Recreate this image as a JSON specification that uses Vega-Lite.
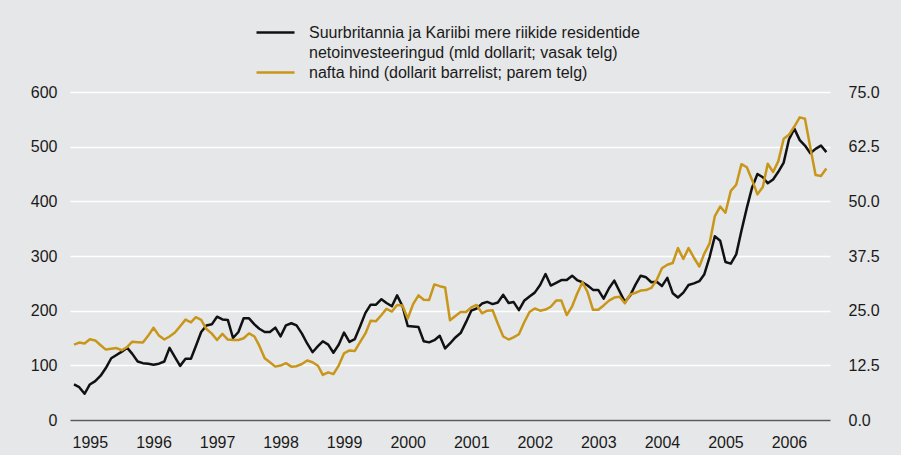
{
  "$schema": "https://vega.github.io/schema/vega-lite/v6.json",
  "width": 760,
  "height": 328,
  "autosize": {"type": "none"},
  "padding": {"left": 70, "top": 92, "right": 71, "bottom": 35},
  "background": "#e6e7e8",
  "data": {"values": [
    {"date":"1995-04-01","invest":65,"oil":17.25},
    {"date":"1995-05-01","invest":60,"oil":17.7},
    {"date":"1995-06-01","invest":48,"oil":17.5},
    {"date":"1995-07-01","invest":65,"oil":18.45},
    {"date":"1995-08-01","invest":71,"oil":18.2},
    {"date":"1995-09-01","invest":81,"oil":17.1},
    {"date":"1995-10-01","invest":95,"oil":16.1},
    {"date":"1995-11-01","invest":113,"oil":16.3},
    {"date":"1995-12-01","invest":119,"oil":16.45},
    {"date":"1996-01-01","invest":125,"oil":15.95},
    {"date":"1996-02-01","invest":132,"oil":16.7},
    {"date":"1996-03-01","invest":121,"oil":17.9},
    {"date":"1996-04-01","invest":107,"oil":17.8},
    {"date":"1996-05-01","invest":104,"oil":17.7},
    {"date":"1996-06-01","invest":103,"oil":19.3},
    {"date":"1996-07-01","invest":101,"oil":21.1},
    {"date":"1996-08-01","invest":103,"oil":19.3},
    {"date":"1996-09-01","invest":107,"oil":18.4},
    {"date":"1996-10-01","invest":132,"oil":19.1},
    {"date":"1996-11-01","invest":115,"oil":20.0},
    {"date":"1996-12-01","invest":99,"oil":21.45},
    {"date":"1997-01-01","invest":112,"oil":22.95},
    {"date":"1997-02-01","invest":112,"oil":22.35},
    {"date":"1997-03-01","invest":135,"oil":23.5},
    {"date":"1997-04-01","invest":161,"oil":22.9},
    {"date":"1997-05-01","invest":173,"oil":20.8},
    {"date":"1997-06-01","invest":175,"oil":19.75},
    {"date":"1997-07-01","invest":189,"oil":18.3},
    {"date":"1997-08-01","invest":184,"oil":19.7},
    {"date":"1997-09-01","invest":183,"oil":18.4},
    {"date":"1997-10-01","invest":150,"oil":18.3},
    {"date":"1997-11-01","invest":161,"oil":18.3},
    {"date":"1997-12-01","invest":186,"oil":18.7},
    {"date":"1998-01-01","invest":186,"oil":19.8},
    {"date":"1998-02-01","invest":175,"oil":19.1},
    {"date":"1998-03-01","invest":167,"oil":17.0},
    {"date":"1998-04-01","invest":161,"oil":14.1},
    {"date":"1998-05-01","invest":161,"oil":13.2},
    {"date":"1998-06-01","invest":169,"oil":12.2},
    {"date":"1998-07-01","invest":153,"oil":12.45},
    {"date":"1998-08-01","invest":173,"oil":13.0},
    {"date":"1998-09-01","invest":177,"oil":12.2},
    {"date":"1998-10-01","invest":173,"oil":12.3},
    {"date":"1998-11-01","invest":158,"oil":12.8},
    {"date":"1998-12-01","invest":140,"oil":13.6},
    {"date":"1999-01-01","invest":124,"oil":13.2},
    {"date":"1999-02-01","invest":135,"oil":12.4},
    {"date":"1999-03-01","invest":144,"oil":10.3},
    {"date":"1999-04-01","invest":138,"oil":10.9},
    {"date":"1999-05-01","invest":123,"oil":10.5},
    {"date":"1999-06-01","invest":138,"oil":12.5},
    {"date":"1999-07-01","invest":160,"oil":15.25},
    {"date":"1999-08-01","invest":143,"oil":15.9},
    {"date":"1999-09-01","invest":148,"oil":15.8},
    {"date":"1999-10-01","invest":171,"oil":17.8},
    {"date":"1999-11-01","invest":196,"oil":19.8},
    {"date":"1999-12-01","invest":211,"oil":22.7},
    {"date":"2000-01-01","invest":211,"oil":22.6},
    {"date":"2000-02-01","invest":221,"oil":24.0},
    {"date":"2000-03-01","invest":214,"oil":25.4},
    {"date":"2000-04-01","invest":208,"oil":24.8},
    {"date":"2000-05-01","invest":228,"oil":26.3},
    {"date":"2000-06-01","invest":208,"oil":26.2},
    {"date":"2000-07-01","invest":172,"oil":23.2},
    {"date":"2000-08-01","invest":171,"oil":26.5},
    {"date":"2000-09-01","invest":170,"oil":28.5},
    {"date":"2000-10-01","invest":144,"oil":27.5},
    {"date":"2000-11-01","invest":142,"oil":27.45},
    {"date":"2000-12-01","invest":146,"oil":31.0},
    {"date":"2001-01-01","invest":154,"oil":30.6},
    {"date":"2001-02-01","invest":131,"oil":30.3},
    {"date":"2001-03-01","invest":140,"oil":22.8},
    {"date":"2001-04-01","invest":151,"oil":23.8},
    {"date":"2001-05-01","invest":159,"oil":24.7},
    {"date":"2001-06-01","invest":179,"oil":24.7},
    {"date":"2001-07-01","invest":200,"oil":25.75},
    {"date":"2001-08-01","invest":204,"oil":26.3},
    {"date":"2001-09-01","invest":213,"oil":24.4},
    {"date":"2001-10-01","invest":216,"oil":25.0},
    {"date":"2001-11-01","invest":212,"oil":25.1},
    {"date":"2001-12-01","invest":215,"oil":22.0},
    {"date":"2002-01-01","invest":229,"oil":19.1},
    {"date":"2002-02-01","invest":214,"oil":18.4},
    {"date":"2002-03-01","invest":216,"oil":18.9},
    {"date":"2002-04-01","invest":201,"oil":19.6},
    {"date":"2002-05-01","invest":218,"oil":22.3},
    {"date":"2002-06-01","invest":226,"oil":24.7},
    {"date":"2002-07-01","invest":233,"oil":25.5},
    {"date":"2002-08-01","invest":247,"oil":25.0},
    {"date":"2002-09-01","invest":267,"oil":25.25},
    {"date":"2002-10-01","invest":246,"oil":25.9},
    {"date":"2002-11-01","invest":251,"oil":27.3},
    {"date":"2002-12-01","invest":256,"oil":27.3},
    {"date":"2003-01-01","invest":256,"oil":24.0},
    {"date":"2003-02-01","invest":264,"oil":26.0},
    {"date":"2003-03-01","invest":256,"oil":28.8},
    {"date":"2003-04-01","invest":252,"oil":31.5},
    {"date":"2003-05-01","invest":246,"oil":29.2},
    {"date":"2003-06-01","invest":238,"oil":25.2},
    {"date":"2003-07-01","invest":238,"oil":25.2},
    {"date":"2003-08-01","invest":222,"oil":26.2},
    {"date":"2003-09-01","invest":241,"oil":27.3},
    {"date":"2003-10-01","invest":255,"oil":28.0},
    {"date":"2003-11-01","invest":235,"oil":28.2},
    {"date":"2003-12-01","invest":216,"oil":26.7},
    {"date":"2004-01-01","invest":228,"oil":28.7},
    {"date":"2004-02-01","invest":248,"oil":29.1},
    {"date":"2004-03-01","invest":264,"oil":29.6},
    {"date":"2004-04-01","invest":261,"oil":29.7},
    {"date":"2004-05-01","invest":252,"oil":30.2},
    {"date":"2004-06-01","invest":253,"oil":32.0},
    {"date":"2004-07-01","invest":245,"oil":34.7},
    {"date":"2004-08-01","invest":260,"oil":35.5},
    {"date":"2004-09-01","invest":232,"oil":35.9},
    {"date":"2004-10-01","invest":224,"oil":39.3},
    {"date":"2004-11-01","invest":233,"oil":36.8},
    {"date":"2004-12-01","invest":247,"oil":39.3},
    {"date":"2005-01-01","invest":250,"oil":37.1},
    {"date":"2005-02-01","invest":254,"oil":35.1},
    {"date":"2005-03-01","invest":266,"oil":38.0},
    {"date":"2005-04-01","invest":298,"oil":40.4},
    {"date":"2005-05-01","invest":336,"oil":46.6},
    {"date":"2005-06-01","invest":328,"oil":48.8},
    {"date":"2005-07-01","invest":289,"oil":47.4},
    {"date":"2005-08-01","invest":286,"oil":52.4},
    {"date":"2005-09-01","invest":303,"oil":53.8},
    {"date":"2005-10-01","invest":346,"oil":58.5},
    {"date":"2005-11-01","invest":388,"oil":57.8},
    {"date":"2005-12-01","invest":425,"oil":54.9},
    {"date":"2006-01-01","invest":450,"oil":51.6},
    {"date":"2006-02-01","invest":444,"oil":53.3},
    {"date":"2006-03-01","invest":433,"oil":58.6},
    {"date":"2006-04-01","invest":440,"oil":56.7},
    {"date":"2006-05-01","invest":454,"oil":59.2},
    {"date":"2006-06-01","invest":471,"oil":64.3},
    {"date":"2006-07-01","invest":513,"oil":65.2},
    {"date":"2006-08-01","invest":533,"oil":67.1},
    {"date":"2006-09-01","invest":512,"oil":69.2},
    {"date":"2006-10-01","invest":502,"oil":68.9},
    {"date":"2006-11-01","invest":488,"oil":62.3},
    {"date":"2006-12-01","invest":496,"oil":56.0},
    {"date":"2007-01-01","invest":502,"oil":55.8},
    {"date":"2007-02-01","invest":490,"oil":57.5}
  ]},
  "encoding": {
    "x": {
      "field": "date",
      "type": "temporal",
      "scale": {"domain": ["1995-03-09", "2007-02-22"]},
      "axis": {
        "title": null,
        "values": ["1995-07-01","1996-07-01","1997-07-01","1998-07-01","1999-07-01","2000-07-01","2001-07-01","2002-07-01","2003-07-01","2004-07-01","2005-07-01","2006-07-01"],
        "format": "%Y",
        "grid": false,
        "ticks": false,
        "domain": true,
        "domainColor": "#58595b",
        "domainWidth": 1.5,
        "labelPadding": 14,
        "labelFlush": false,
        "zindex": 1
      }
    }
  },
  "layer": [
    {
      "mark": {"type": "line", "strokeWidth": 2.5, "strokeJoin": "round"},
      "encoding": {
        "y": {
          "field": "invest",
          "type": "quantitative",
          "scale": {"domain": [0, 600]},
          "axis": {
            "orient": "left",
            "title": null,
            "values": [0, 100, 200, 300, 400, 500, 600],
            "grid": true,
            "gridColor": "#ffffff",
            "gridWidth": 1.3,
            "ticks": false,
            "domain": false,
            "labelPadding": 13
          }
        },
        "color": {
          "datum": "Suurbritannia ja Kariibi mere riikide residentide",
          "scale": {
            "domain": ["Suurbritannia ja Kariibi mere riikide residentide", "netoinvesteeringud (mld dollarit; vasak telg)", "nafta hind (dollarit barrelist; parem telg)"],
            "range": ["#111111", "rgba(0,0,0,0)", "#c8961a"]
          },
          "legend": {
            "orient": "none",
            "legendX": 185,
            "legendY": -67.5,
            "title": null,
            "direction": "vertical",
            "symbolType": "stroke",
            "symbolSize": 1444,
            "symbolStrokeWidth": 2.5,
            "clipHeight": 16,
            "labelFontSize": 16,
            "labelFont": "Liberation Sans",
            "labelColor": "#1a1a1a",
            "labelOffset": 13,
            "labelLimit": 600,
            "rowPadding": 4
          }
        }
      }
    },
    {
      "mark": {"type": "line", "strokeWidth": 2.5, "strokeJoin": "round"},
      "encoding": {
        "y": {
          "field": "oil",
          "type": "quantitative",
          "scale": {"domain": [0, 75]},
          "axis": {
            "orient": "right",
            "title": null,
            "values": [0, 12.5, 25, 37.5, 50, 62.5, 75],
            "format": ".1f",
            "grid": false,
            "ticks": false,
            "domain": false,
            "labelPadding": 18
          }
        },
        "color": {"datum": "nafta hind (dollarit barrelist; parem telg)"}
      }
    }
  ],
  "resolve": {"scale": {"y": "independent"}},
  "config": {
    "view": {"stroke": null},
    "font": "Liberation Sans",
    "axis": {"labelFont": "Liberation Sans", "labelFontSize": 16, "labelColor": "#1a1a1a"}
  }
}
